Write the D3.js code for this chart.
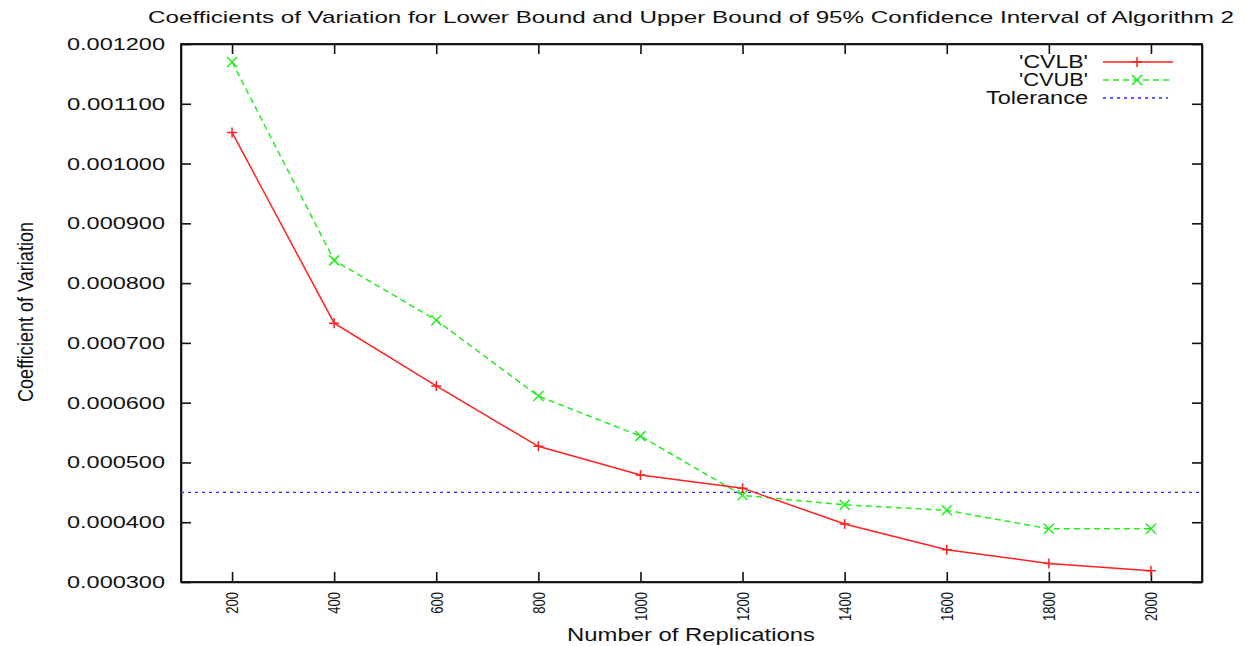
<!DOCTYPE html>
<html>
<head>
<meta charset="utf-8">
<script src="https://cdn.jsdelivr.net/npm/d3@7"></script>
<style>
  body { margin: 0; background: #fff; }
  text { font-family: "Liberation Sans", Arial, sans-serif; fill: #111; }
</style>
</head>
<body>
<div id="chart"></div>
<script>
(function lineChart() {

  // replications on the x axis
  var replications = [200, 400, 600, 800, 1000, 1200, 1400, 1600, 1800, 2000];
  // coefficient of variation of the lower bound
  var cvlb = [0.001052, 0.000733, 0.000628, 0.000527, 0.000479, 0.000457, 0.000397, 0.000354, 0.000331, 0.000319];
  // coefficient of variation of the upper bound
  var cvub = [0.001170, 0.000838, 0.000738, 0.000611, 0.000544, 0.000445, 0.000429, 0.000420, 0.000389, 0.000389];
  var tolerance = 0.00045;
  var yTicks = [0.0003, 0.0004, 0.0005, 0.0006, 0.0007, 0.0008, 0.0009, 0.0010, 0.0011, 0.0012];
  var legendLabels = ["'CVLB'", "'CVUB'", "Tolerance"];

  var W = 1246, H = 646;
  var margin = {top: 44, right: 44, bottom: 64, left: 181},
      width = W - margin.left - margin.right,
      height = H - margin.top - margin.bottom;

  var x = d3.scaleLinear().domain([100, 2100]).range([0, width]);
  var y = d3.scaleLinear().domain([0.0003, 0.0012]).range([height, 0]);

  var svg = d3.select("#chart").append("svg")
      .attr("width", W)
      .attr("height", H);

  var g = svg.append("g")
      .attr("transform", "translate(" + margin.left + "," + margin.top + ")");

  // title
  svg.append("text")
      .attr("x", 691)
      .attr("y", 23)
      .attr("text-anchor", "middle")
      .attr("font-size", 17)
      .attr("textLength", 1086)
      .attr("lengthAdjust", "spacingAndGlyphs")
      .text("Coefficients of Variation for Lower Bound and Upper Bound of 95% Confidence Interval of Algorithm 2");

  // axes, gnuplot style: ticks inside, mirrored
  var fmt = function(d) { return d.toFixed(6); };

  var yAxis = g.append("g")
      .call(d3.axisLeft(y).tickValues(yTicks).tickSize(-10).tickSizeOuter(0).tickPadding(16).tickFormat(fmt));
  yAxis.selectAll("text")
      .attr("font-size", 17)
      .attr("textLength", 98)
      .attr("lengthAdjust", "spacingAndGlyphs");

  g.append("g")
      .attr("transform", "translate(" + width + ",0)")
      .call(d3.axisRight(y).tickValues(yTicks).tickSize(-10).tickSizeOuter(0).tickFormat(""));

  var xAxis = g.append("g")
      .attr("transform", "translate(0," + height + ")")
      .call(d3.axisBottom(x).tickValues(replications).tickSize(-10).tickSizeOuter(0).tickFormat(d3.format("d")));
  xAxis.selectAll("text")
      .attr("font-size", 13)
      .attr("text-anchor", "end")
      .attr("dy", "0.35em")
      .attr("transform", "translate(0,10) rotate(-90) scale(1,1.27)")
      .attr("x", 0)
      .attr("y", 0);

  g.append("g")
      .call(d3.axisTop(x).tickValues(replications).tickSize(-10).tickSizeOuter(0).tickFormat(""));

  g.selectAll(".domain, .tick line").attr("stroke", "#111").attr("stroke-width", 1.6);

  g.append("rect")
      .attr("width", width)
      .attr("height", height)
      .attr("fill", "none")
      .attr("stroke", "#111")
      .attr("stroke-width", 1.8);

  // axis titles
  svg.append("text")
      .attr("x", 691)
      .attr("y", 641)
      .attr("text-anchor", "middle")
      .attr("font-size", 18)
      .attr("textLength", 248)
      .attr("lengthAdjust", "spacingAndGlyphs")
      .text("Number of Replications");

  svg.append("text")
      .attr("transform", "translate(33,312) rotate(-90) scale(1,1.27)")
      .attr("text-anchor", "middle")
      .attr("font-size", 17)
      .attr("textLength", 180)
      .attr("lengthAdjust", "spacingAndGlyphs")
      .text("Coefficient of Variation");

  // tolerance line
  g.append("line")
      .attr("x1", 0)
      .attr("x2", width)
      .attr("y1", y(tolerance))
      .attr("y2", y(tolerance))
      .attr("stroke", "#2a2aff")
      .attr("stroke-width", 1.3)
      .attr("stroke-dasharray", "3,4");

  var line = d3.line()
      .x(function(d) { return x(d[0]); })
      .y(function(d) { return y(d[1]); });

  var lbData = replications.map(function(r, i) { return [r, cvlb[i]]; });
  var ubData = replications.map(function(r, i) { return [r, cvub[i]]; });

  g.append("path")
      .datum(ubData)
      .attr("d", line)
      .attr("fill", "none")
      .attr("stroke", "#22ee22")
      .attr("stroke-width", 1.5)
      .attr("stroke-dasharray", "6,4");

  g.append("path")
      .datum(lbData)
      .attr("d", line)
      .attr("fill", "none")
      .attr("stroke", "#ff2020")
      .attr("stroke-width", 1.5);

  var s = 5;
  function plus(sel) {
    sel.append("path")
        .attr("d", "M" + (-s) + ",0H" + s + "M0," + (-s) + "V" + s)
        .attr("stroke", "#ff2020")
        .attr("stroke-width", 1.5);
  }
  function cross(sel) {
    sel.append("path")
        .attr("d", "M" + (-s) + "," + (-s) + "L" + s + "," + s + "M" + (-s) + "," + s + "L" + s + "," + (-s))
        .attr("stroke", "#22ee22")
        .attr("stroke-width", 1.5);
  }

  g.selectAll(".lb")
      .data(lbData)
    .enter().append("g")
      .attr("class", "lb")
      .attr("transform", function(d) { return "translate(" + x(d[0]) + "," + y(d[1]) + ")"; })
      .call(plus);

  g.selectAll(".ub")
      .data(ubData)
    .enter().append("g")
      .attr("class", "ub")
      .attr("transform", function(d) { return "translate(" + x(d[0]) + "," + y(d[1]) + ")"; })
      .call(cross);

  // legend
  var legend = svg.selectAll(".legend")
      .data(legendLabels)
    .enter().append("g")
      .attr("class", "legend")
      .attr("transform", function(d, i) { return "translate(0," + (62 + i * 18) + ")"; });

  legend.append("text")
      .attr("x", 1088)
      .attr("y", 0)
      .attr("dy", "0.35em")
      .attr("text-anchor", "end")
      .attr("font-size", 18)
      .attr("textLength", function(d, i) { return [69, 69, 102][i]; })
      .attr("lengthAdjust", "spacingAndGlyphs")
      .text(function(d) { return d; });

  var styles = [
    {stroke: "#ff2020", dash: null},
    {stroke: "#22ee22", dash: "6,4"},
    {stroke: "#2a2aff", dash: "3,4"}
  ];

  legend.append("line")
      .attr("x1", 1103)
      .attr("x2", function(d, i) { return i === 2 ? 1168 : 1173; })
      .attr("stroke", function(d, i) { return styles[i].stroke; })
      .attr("stroke-width", 1.5)
      .attr("stroke-dasharray", function(d, i) { return styles[i].dash; });

  legend.filter(function(d, i) { return i === 0; })
      .append("g").attr("transform", "translate(1137,0)").call(plus);
  legend.filter(function(d, i) { return i === 1; })
      .append("g").attr("transform", "translate(1137,0)").call(cross);

}());
</script>
</body>
</html>
